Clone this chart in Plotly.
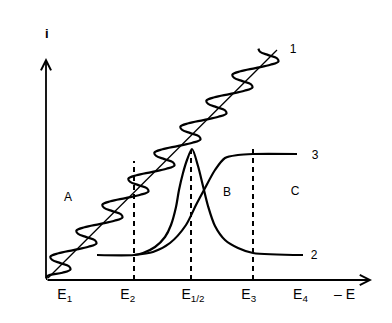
import plotly.graph_objects as go

# ---- data (x = potential axis units, y = current units) ----
# curve 1: straight reference line and the oscillating signal wrapped around it
line1_x = [2, 231]
line1_y = [2, 230]

wave_x = [0, 1.4, 16.4, 24.4, 22.9, 14.4, 6.0, 4.4, 12.5, 27.4, 42.4, 50.4, 48.9, 40.4, 32.0, 30.4, 38.5,
          53.4, 68.4, 76.4, 74.9, 66.4, 58.0, 56.4, 64.5, 79.4, 94.4, 102.4, 100.9, 92.4, 84.0, 82.4, 90.5,
          105.4, 120.4, 128.4, 126.9, 118.4, 110.0, 108.4, 116.5, 131.4, 146.4, 154.4, 152.9, 144.4, 136.0,
          134.4, 142.5, 157.4, 172.4, 180.4, 178.9, 170.4, 162.0, 160.4, 168.5, 183.4, 198.4, 206.4, 204.9,
          196.4, 188.0, 186.4, 194.5, 209.4, 224.4, 232.4, 230.9, 222.4, 214.0, 212.4]
wave_y = [0, 3.9, 7.2, 10.4, 13.7, 16.9, 20.2, 23.4, 26.7, 29.9, 33.2, 36.4, 39.7, 42.9, 46.2, 49.4, 52.7,
          55.9, 59.2, 62.4, 65.7, 68.9, 72.2, 75.4, 78.7, 81.9, 85.2, 88.4, 91.7, 94.9, 98.2, 101.4, 104.7,
          107.9, 111.2, 114.4, 117.7, 120.9, 124.2, 127.4, 130.7, 133.9, 137.2, 140.4, 143.7, 146.9, 150.2,
          153.4, 156.7, 159.9, 163.2, 166.4, 169.7, 172.9, 176.2, 179.4, 182.7, 185.9, 189.2, 192.4, 195.7,
          198.9, 202.2, 205.4, 208.7, 211.9, 215.2, 218.4, 221.7, 224.9, 228.2, 231.4]

# curve 2: peak
peak_x = [51, 88, 97, 109, 119, 125, 130, 133, 137, 141, 146, 152, 157, 162, 169, 179, 192, 207, 257]
peak_y = [25, 25, 27, 33, 43, 55, 73, 90, 107, 120, 131, 114, 94, 74, 54, 40, 32, 27, 25]

# curve 3: wave (sigmoid)
sig_x = [88, 107, 124, 140, 150, 158, 169, 179, 192, 207, 251]
sig_y = [25, 28, 37, 55, 75, 90, 110, 122, 125, 126, 126]

# dashed potential markers E2, E1/2, E3
marker_x = [88, 145, 207]
marker_top = [119, 130, 135]

# axis tick labels
tick_vals = [18.7, 81.7, 147, 202.7, 254.5, 298.5]
tick_text = ["E<sub>1</sub>", "E<sub>2</sub>", "E<sub>1/2</sub>", "E<sub>3</sub>", "E<sub>4</sub>", "\u2013 E"]

# region labels and curve numbers
region_text = ["A", "B", "C"]
region_x = [22, 181, 249]
region_y = [82, 87, 88]
curve_num_text = ["1", "2", "3"]
curve_num_x = [247, 268, 269]
curve_num_y = [230, 24, 124]

FONT = "Liberation Sans"

fig = go.Figure()

fig.add_trace(go.Scatter(x=line1_x, y=line1_y, mode="lines",
                         line=dict(color="black", width=1.3), hoverinfo="skip"))
fig.add_trace(go.Scatter(x=wave_x, y=wave_y, mode="lines",
                         line=dict(color="black", width=2.2, shape="spline", smoothing=1.0), hoverinfo="skip"))
fig.add_trace(go.Scatter(x=peak_x, y=peak_y, mode="lines",
                         line=dict(color="black", width=2.2, shape="spline", smoothing=0.8), hoverinfo="skip"))
fig.add_trace(go.Scatter(x=sig_x, y=sig_y, mode="lines",
                         line=dict(color="black", width=2.2, shape="spline", smoothing=0.8), hoverinfo="skip"))

for mx, mt in zip(marker_x, marker_top):
    fig.add_trace(go.Scatter(x=[mx, mx], y=[0, mt], mode="lines",
                             line=dict(color="black", width=2, dash="5px,4px"), hoverinfo="skip"))

fig.add_trace(go.Scatter(x=region_x, y=region_y, text=region_text, mode="text",
                         textfont=dict(family=FONT, size=12, color="black"), hoverinfo="skip"))
fig.add_trace(go.Scatter(x=curve_num_x, y=curve_num_y, text=curve_num_text, mode="text",
                         textfont=dict(family=FONT, size=12, color="black"), hoverinfo="skip"))

# axes with arrows
fig.add_annotation(x=326, y=0, ax=0, ay=0, xref="x", yref="y", axref="x", ayref="y",
                   text="", showarrow=True, arrowhead=5, arrowsize=1.1, arrowwidth=1.8, arrowcolor="black")
fig.add_annotation(x=0, y=222, ax=0, ay=0, xref="x", yref="y", axref="x", ayref="y",
                   text="", showarrow=True, arrowhead=5, arrowsize=1.1, arrowwidth=1.8, arrowcolor="black")
fig.add_annotation(x=1, y=247, xref="x", yref="y", text="<b>i</b>", showarrow=False,
                   font=dict(family=FONT, size=13, color="black"))

fig.update_layout(
    width=392, height=323, autosize=False,
    margin=dict(l=46, r=0, t=0, b=43, pad=0),
    paper_bgcolor="white", plot_bgcolor="white",
    showlegend=False,
    xaxis=dict(range=[0, 346], showgrid=False, zeroline=False, showline=False,
               tickmode="array", tickvals=tick_vals, ticktext=tick_text, ticks="",
               tickfont=dict(family=FONT, size=14, color="black"), ticklabelstandoff=4,
               fixedrange=True),
    yaxis=dict(range=[0, 280], showgrid=False, zeroline=False, showline=False,
               showticklabels=False, ticks="", fixedrange=True),
)

fig.write_html("out.html")
